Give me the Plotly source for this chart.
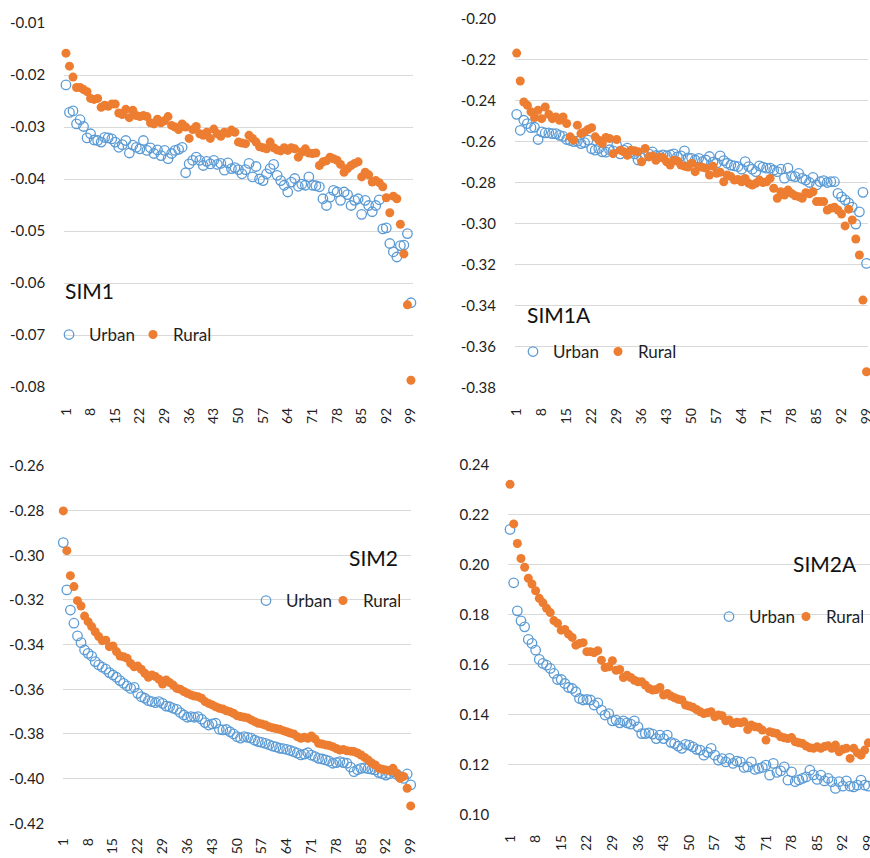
import plotly.graph_objects as go

idx = list(range(1, 100))
x_tickvals = list(range(1, 100, 7))
x_ticktext = [str(v) for v in x_tickvals]

# ---------------- SIM1 ----------------
sim1_urban = [-0.0219, -0.0272, -0.0269, -0.0294, -0.0286, -0.0299, -0.0321, -0.0313, -0.0325, -0.0326,
              -0.0329, -0.0320, -0.0321, -0.0323, -0.0329, -0.0339, -0.0334, -0.0326, -0.0350, -0.0335,
              -0.0339, -0.0342, -0.0326, -0.0345, -0.0340, -0.0351, -0.0344, -0.0355, -0.0345, -0.0361,
              -0.0351, -0.0345, -0.0343, -0.0339, -0.0388, -0.0371, -0.0364, -0.0358, -0.0364, -0.0374,
              -0.0366, -0.0371, -0.0364, -0.0372, -0.0370, -0.0383, -0.0369, -0.0380, -0.0378, -0.0382,
              -0.0390, -0.0382, -0.0370, -0.0396, -0.0376, -0.0400, -0.0403, -0.0390, -0.0380, -0.0372,
              -0.0393, -0.0403, -0.0412, -0.0425, -0.0406, -0.0399, -0.0414, -0.0410, -0.0412, -0.0396,
              -0.0412, -0.0413, -0.0415, -0.0438, -0.0451, -0.0435, -0.0422, -0.0425, -0.0441, -0.0425,
              -0.0430, -0.0451, -0.0441, -0.0438, -0.0468, -0.0441, -0.0451, -0.0463, -0.0451, -0.0440,
              -0.0496, -0.0494, -0.0524, -0.0540, -0.0550, -0.0528, -0.0527, -0.0505, -0.0638]
sim1_rural = [-0.0158, -0.0183, -0.0204, -0.0224, -0.0224, -0.0228, -0.0232, -0.0245, -0.0247, -0.0245,
              -0.0262, -0.0258, -0.0260, -0.0256, -0.0256, -0.0273, -0.0276, -0.0266, -0.0282, -0.0268,
              -0.0278, -0.0280, -0.0278, -0.0280, -0.0292, -0.0294, -0.0285, -0.0292, -0.0288, -0.0280,
              -0.0297, -0.0300, -0.0305, -0.0294, -0.0300, -0.0322, -0.0305, -0.0299, -0.0313, -0.0316,
              -0.0310, -0.0322, -0.0304, -0.0313, -0.0318, -0.0310, -0.0312, -0.0306, -0.0310, -0.0329,
              -0.0331, -0.0332, -0.0316, -0.0322, -0.0329, -0.0338, -0.0340, -0.0342, -0.0329, -0.0340,
              -0.0344, -0.0346, -0.0340, -0.0345, -0.0340, -0.0342, -0.0358, -0.0348, -0.0342, -0.0350,
              -0.0351, -0.0350, -0.0374, -0.0367, -0.0365, -0.0358, -0.0361, -0.0364, -0.0372, -0.0387,
              -0.0380, -0.0374, -0.0370, -0.0367, -0.0396, -0.0387, -0.0392, -0.0406, -0.0403, -0.0407,
              -0.0415, -0.0436, -0.0465, -0.0433, -0.0438, -0.0487, -0.0544, -0.0642, -0.0787]
sim1_yticks = [-0.08, -0.07, -0.06, -0.05, -0.04, -0.03, -0.02, -0.01]
sim1_ytext = ["-0.08", "-0.07", "-0.06", "-0.05", "-0.04", "-0.03", "-0.02", "-0.01"]

# ---------------- SIM1A ----------------
sim1a_urban = [-0.2467, -0.2545, -0.2496, -0.2512, -0.2532, -0.2530, -0.2590, -0.2553, -0.2558, -0.2558,
               -0.2561, -0.2561, -0.2570, -0.2575, -0.2590, -0.2595, -0.2600, -0.2598, -0.2610, -0.2605,
               -0.2593, -0.2635, -0.2642, -0.2634, -0.2650, -0.2652, -0.2640, -0.2645, -0.2618, -0.2660,
               -0.2642, -0.2632, -0.2650, -0.2660, -0.2690, -0.2680, -0.2670, -0.2660, -0.2650, -0.2668,
               -0.2670, -0.2665, -0.2670, -0.2665, -0.2660, -0.2675, -0.2670, -0.2645, -0.2680, -0.2682,
               -0.2690, -0.2682, -0.2698, -0.2690, -0.2673, -0.2700, -0.2706, -0.2670, -0.2693, -0.2706,
               -0.2715, -0.2719, -0.2722, -0.2735, -0.2698, -0.2722, -0.2735, -0.2747, -0.2719, -0.2725,
               -0.2730, -0.2730, -0.2740, -0.2747, -0.2735, -0.2779, -0.2730, -0.2768, -0.2771, -0.2755,
               -0.2780, -0.2788, -0.2800, -0.2775, -0.2812, -0.2796, -0.2791, -0.2800, -0.2796, -0.2796,
               -0.2853, -0.2870, -0.2885, -0.2900, -0.2920, -0.3003, -0.2943, -0.2848, -0.3195]
sim1a_rural = [-0.2168, -0.2304, -0.2407, -0.2423, -0.2455, -0.2483, -0.2447, -0.2488, -0.2431, -0.2467,
               -0.2488, -0.2480, -0.2496, -0.2480, -0.2512, -0.2577, -0.2593, -0.2520, -0.2561, -0.2553,
               -0.2541, -0.2532, -0.2577, -0.2593, -0.2610, -0.2580, -0.2585, -0.2659, -0.2590, -0.2642,
               -0.2650, -0.2667, -0.2642, -0.2645, -0.2650, -0.2699, -0.2634, -0.2675, -0.2670, -0.2691,
               -0.2675, -0.2680, -0.2699, -0.2715, -0.2691, -0.2695, -0.2715, -0.2720, -0.2724, -0.2706,
               -0.2747, -0.2722, -0.2726, -0.2730, -0.2763, -0.2720, -0.2755, -0.2750, -0.2796, -0.2763,
               -0.2771, -0.2788, -0.2785, -0.2796, -0.2780, -0.2804, -0.2812, -0.2804, -0.2788, -0.2800,
               -0.2796, -0.2780, -0.2828, -0.2877, -0.2845, -0.2861, -0.2837, -0.2853, -0.2865, -0.2869,
               -0.2877, -0.2850, -0.2855, -0.2845, -0.2893, -0.2893, -0.2893, -0.2934, -0.2926, -0.2921,
               -0.2934, -0.2954, -0.3012, -0.2930, -0.2983, -0.3076, -0.3154, -0.3374, -0.3724]
sim1a_yticks = [-0.38, -0.36, -0.34, -0.32, -0.30, -0.28, -0.26, -0.24, -0.22, -0.20]
sim1a_ytext = ["-0.38", "-0.36", "-0.34", "-0.32", "-0.30", "-0.28", "-0.26", "-0.24", "-0.22", "-0.20"]

# ---------------- SIM2 ----------------
sim2_urban = [-0.2943, -0.3155, -0.3245, -0.3304, -0.3361, -0.3391, -0.3424, -0.3439, -0.3451, -0.3476,
              -0.3491, -0.3501, -0.3510, -0.3525, -0.3536, -0.3546, -0.3561, -0.3573, -0.3585, -0.3596,
              -0.3591, -0.3618, -0.3633, -0.3640, -0.3651, -0.3655, -0.3660, -0.3655, -0.3663, -0.3675,
              -0.3678, -0.3685, -0.3690, -0.3704, -0.3715, -0.3725, -0.3722, -0.3725, -0.3722, -0.3734,
              -0.3749, -0.3760, -0.3755, -0.3752, -0.3779, -0.3782, -0.3780, -0.3790, -0.3800, -0.3812,
              -0.3819, -0.3812, -0.3815, -0.3819, -0.3828, -0.3834, -0.3838, -0.3842, -0.3848, -0.3854,
              -0.3858, -0.3864, -0.3866, -0.3869, -0.3874, -0.3879, -0.3886, -0.3894, -0.3890, -0.3884,
              -0.3895, -0.3901, -0.3909, -0.3912, -0.3916, -0.3922, -0.3931, -0.3928, -0.3924, -0.3928,
              -0.3931, -0.3948, -0.3969, -0.3960, -0.3954, -0.3952, -0.3955, -0.3958, -0.3961, -0.3973,
              -0.3978, -0.3984, -0.3978, -0.3969, -0.3980, -0.3991, -0.3999, -0.3979, -0.4028]
sim2_rural = [-0.2801, -0.2979, -0.3091, -0.3140, -0.3203, -0.3227, -0.3272, -0.3297, -0.3319, -0.3342,
              -0.3364, -0.3382, -0.3380, -0.3409, -0.3406, -0.3431, -0.3451, -0.3454, -0.3461, -0.3484,
              -0.3499, -0.3496, -0.3510, -0.3528, -0.3546, -0.3536, -0.3543, -0.3555, -0.3576, -0.3558,
              -0.3570, -0.3581, -0.3596, -0.3600, -0.3610, -0.3618, -0.3625, -0.3630, -0.3633, -0.3640,
              -0.3655, -0.3663, -0.3670, -0.3678, -0.3685, -0.3688, -0.3696, -0.3700, -0.3707, -0.3718,
              -0.3722, -0.3725, -0.3728, -0.3737, -0.3745, -0.3752, -0.3755, -0.3760, -0.3768, -0.3772,
              -0.3776, -0.3779, -0.3785, -0.3790, -0.3796, -0.3800, -0.3812, -0.3819, -0.3815, -0.3819,
              -0.3809, -0.3822, -0.3842, -0.3845, -0.3849, -0.3852, -0.3857, -0.3865, -0.3872, -0.3870,
              -0.3875, -0.3877, -0.3879, -0.3885, -0.3894, -0.3905, -0.3916, -0.3930, -0.3939, -0.3954,
              -0.3958, -0.3961, -0.3965, -0.3954, -0.3976, -0.3999, -0.3990, -0.4043, -0.4122]
sim2_yticks = [-0.42, -0.40, -0.38, -0.36, -0.34, -0.32, -0.30, -0.28, -0.26]
sim2_ytext = ["-0.42", "-0.40", "-0.38", "-0.36", "-0.34", "-0.32", "-0.30", "-0.28", "-0.26"]

# ---------------- SIM2A ----------------
sim2a_urban = [0.2140, 0.1927, 0.1815, 0.1775, 0.1751, 0.1701, 0.1685, 0.1658, 0.1621, 0.1605,
               0.1598, 0.1585, 0.1565, 0.1541, 0.1541, 0.1525, 0.1509, 0.1505, 0.1492, 0.1465,
               0.1459, 0.1461, 0.1459, 0.1439, 0.1448, 0.1419, 0.1399, 0.1405, 0.1376, 0.1379,
               0.1368, 0.1376, 0.1368, 0.1363, 0.1376, 0.1352, 0.1325, 0.1325, 0.1328, 0.1323,
               0.1305, 0.1319, 0.1305, 0.1319, 0.1290, 0.1285, 0.1275, 0.1266, 0.1282, 0.1279,
               0.1272, 0.1262, 0.1259, 0.1239, 0.1250, 0.1266, 0.1239, 0.1219, 0.1225, 0.1212,
               0.1226, 0.1206, 0.1215, 0.1212, 0.1190, 0.1192, 0.1212, 0.1182, 0.1186, 0.1190,
               0.1199, 0.1159, 0.1206, 0.1170, 0.1176, 0.1192, 0.1139, 0.1172, 0.1133, 0.1140,
               0.1146, 0.1152, 0.1179, 0.1160, 0.1142, 0.1159, 0.1136, 0.1146, 0.1133, 0.1106,
               0.1133, 0.1115, 0.1136, 0.1115, 0.1112, 0.1119, 0.1139, 0.1119, 0.1115]
sim2a_rural = [0.2320, 0.2162, 0.2084, 0.2024, 0.1989, 0.1945, 0.1922, 0.1895, 0.1865, 0.1847,
               0.1825, 0.1808, 0.1776, 0.1765, 0.1738, 0.1741, 0.1722, 0.1709, 0.1678, 0.1685,
               0.1688, 0.1652, 0.1652, 0.1648, 0.1656, 0.1618, 0.1589, 0.1592, 0.1616, 0.1578,
               0.1581, 0.1549, 0.1558, 0.1549, 0.1538, 0.1532, 0.1532, 0.1519, 0.1505, 0.1499,
               0.1501, 0.1509, 0.1479, 0.1485, 0.1475, 0.1468, 0.1462, 0.1459, 0.1439, 0.1435,
               0.1430, 0.1421, 0.1412, 0.1405, 0.1408, 0.1412, 0.1392, 0.1399, 0.1396, 0.1376,
               0.1379, 0.1365, 0.1370, 0.1368, 0.1372, 0.1341, 0.1359, 0.1352, 0.1350, 0.1339,
               0.1299, 0.1332, 0.1328, 0.1325, 0.1312, 0.1308, 0.1305, 0.1309, 0.1292, 0.1288,
               0.1285, 0.1275, 0.1268, 0.1266, 0.1272, 0.1266, 0.1273, 0.1276, 0.1266, 0.1279,
               0.1252, 0.1262, 0.1266, 0.1226, 0.1266, 0.1248, 0.1239, 0.1259, 0.1288]
sim2a_yticks = [0.10, 0.12, 0.14, 0.16, 0.18, 0.20, 0.22, 0.24]
sim2a_ytext = ["0.10", "0.12", "0.14", "0.16", "0.18", "0.20", "0.22", "0.24"]

titles = ["SIM1", "SIM1A", "SIM2", "SIM2A"]
series_names = ["Urban", "Rural"]

URBAN_COLOR = "#5B9BD5"
RURAL_COLOR = "#ED7D31"
FONT = "Lato"
TXT = "#1f1f1f"
W, H = 870, 858


def px_x(p):
    return p / W


def px_y(p):
    return 1 - p / H


panels = [
    dict(urban=sim1_urban, rural=sim1_rural, yt=sim1_yticks, ytt=sim1_ytext, xstand=17,
         xdom=(64.2, 412.7), ydom=(23, 387), xr=[0.5, 99.5], yr=[-0.08, -0.01]),
    dict(urban=sim1a_urban, rural=sim1a_rural, yt=sim1a_yticks, ytt=sim1a_ytext, xstand=17,
         xdom=(514.9, 868.3), ydom=(18.7, 387.3), xr=[0.5, 99.5], yr=[-0.38, -0.20]),
    dict(urban=sim2_urban, rural=sim2_rural, yt=sim2_yticks, ytt=sim2_ytext, xstand=11,
         xdom=(63.3, 410.7), ydom=(466, 823.3), xr=[1, 99], yr=[-0.42, -0.26]),
    dict(urban=sim2a_urban, rural=sim2a_rural, yt=sim2a_yticks, ytt=sim2a_ytext, xstand=16,
         xdom=(508.2, 870), ydom=(464.3, 815), xr=[0.5, 99.45], yr=[0.10, 0.24]),
]

fig = go.Figure()
layout = {}
legend_names = ["legend", "legend2", "legend3", "legend4"]

for k, p in enumerate(panels):
    n = "" if k == 0 else str(k + 1)
    xa, ya = "x" + n, "y" + n
    leg = legend_names[k]
    fig.add_trace(go.Scatter(
        x=idx, y=p["urban"], mode="markers", name=series_names[0], xaxis=xa, yaxis=ya,
        legend=leg, cliponaxis=False,
        marker=dict(symbol="circle-open", size=9.5, color=URBAN_COLOR, line=dict(width=1.3, color=URBAN_COLOR))))
    fig.add_trace(go.Scatter(
        x=idx, y=p["rural"], mode="markers", name=series_names[1], xaxis=xa, yaxis=ya,
        legend=leg, cliponaxis=False,
        marker=dict(symbol="circle", size=9, color=RURAL_COLOR)))
    layout["xaxis" + n] = dict(
        domain=[px_x(p["xdom"][0]), px_x(p["xdom"][1])], range=p["xr"], anchor=ya,
        tickmode="array", tickvals=x_tickvals, ticktext=x_ticktext, tickangle=-90,
        showgrid=False, zeroline=False, showline=False, ticks="", automargin=False,
        ticklabeloverflow="allow",
        ticklabelstandoff=p["xstand"], tickfont=dict(family=FONT, size=14, color=TXT))
    layout["yaxis" + n] = dict(
        domain=[px_y(p["ydom"][1]), px_y(p["ydom"][0])], range=p["yr"], anchor=xa,
        tickmode="array", tickvals=p["yt"], ticktext=p["ytt"], automargin=False,
        showgrid=True, gridcolor="#D9D9D9", gridwidth=1.2, zeroline=False, showline=False, ticks="",
        ticklabelstandoff=18, tickfont=dict(family=FONT, size=15, color=TXT))

legend_common = dict(orientation="h", bgcolor="rgba(0,0,0,0)", font=dict(family=FONT, size=17, color=TXT),
                     itemclick=False, itemdoubleclick=False, tracegroupgap=0, entrywidthmode="pixels")
layout["legend"] = dict(x=px_x(49), y=px_y(335), xanchor="left", yanchor="middle", entrywidth=39, **legend_common)
layout["legend2"] = dict(x=px_x(513), y=px_y(352), xanchor="left", yanchor="middle", entrywidth=40, **legend_common)
layout["legend3"] = dict(x=px_x(400), y=px_y(601), xanchor="right", yanchor="middle", entrywidth=32, **legend_common)
layout["legend4"] = dict(x=px_x(863), y=px_y(617), xanchor="right", yanchor="middle", entrywidth=32, **legend_common)

annotations = [
    dict(text=titles[0], x=px_x(63), y=px_y(290), xanchor="left", yanchor="middle"),
    dict(text=titles[1], x=px_x(525), y=px_y(315), xanchor="left", yanchor="middle"),
    dict(text=titles[2], x=px_x(400), y=px_y(557), xanchor="right", yanchor="middle"),
    dict(text=titles[3], x=px_x(859), y=px_y(563), xanchor="right", yanchor="middle"),
]
for a in annotations:
    a.update(xref="paper", yref="paper", showarrow=False, font=dict(family=FONT, size=21, color="#111111"))

fig.update_layout(
    width=W, height=H, margin=dict(l=0, r=0, t=0, b=0, autoexpand=False),
    paper_bgcolor="white", plot_bgcolor="white", showlegend=True,
    annotations=annotations, **layout)

fig.write_html("out.html", config={"displayModeBar": False},
               post_script="document.body.style.margin='0px';document.body.style.overflow='hidden';")
